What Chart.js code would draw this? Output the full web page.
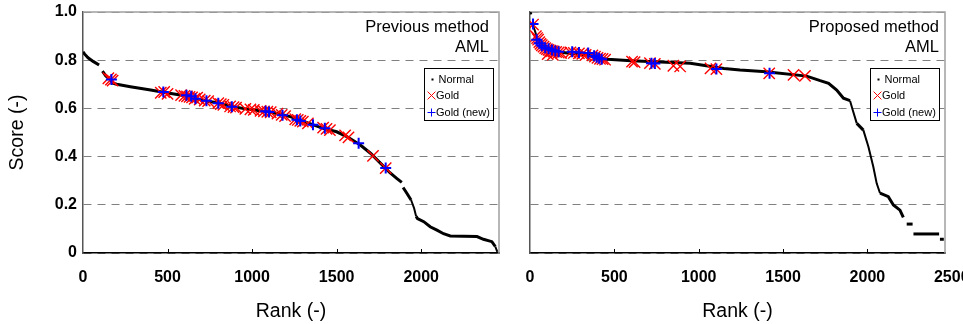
<!DOCTYPE html>
<html>
<head>
<meta charset="utf-8">
<script src="https://cdn.jsdelivr.net/npm/chart.js@4.4.1/dist/chart.umd.min.js"></script>
<style>
  body { margin: 0; background: #fff; }
  #wrap { position: relative; width: 963px; height: 324px; overflow: hidden; }
  canvas { position: absolute; top: 0; }
</style>
</head>
<body>
<div id="wrap">
  <canvas id="left" width="510" height="324" style="left:0"></canvas>
  <canvas id="right" width="453" height="324" style="left:510px"></canvas>
</div>
<script>
// ticks and labels
const rankTicksLeft = [0, 500, 1000, 1500, 2000];
const rankTicksRight = [0, 500, 1000, 1500, 2000, 2500];
const scoreTicks = [0, 0.2, 0.4, 0.6, 0.8, 1.0];
const legendLabels = ["Normal", "Gold", "Gold (new)"];
const prevTitle = ["Previous method", "AML"];
const propTitle = ["Proposed method", "AML"];

// Previous method - normal (null = gap in the dots)
const prevNormalRank = [0, 10, 30, 60, 95, 96, 115, 135, 160, 175, 200, 280, 400, 475, 575, 650, 730, 810, 890, 970, 1090, 1170, 1230, 1300, 1420, 1500, 1560, 1640, 1700, 1760, 1815, 1855, 1885, 1888, 1893, 1915, 1940, 1958, 1970, 1978, 2015, 2053, 2093, 2132, 2172, 2330, 2368, 2418, 2438, 2450];
const prevNormalScore = [0.835, 0.825, 0.81, 0.795, 0.78, null, 0.755, 0.735, 0.72, 0.705, 0.70, 0.69, 0.676, 0.667, 0.656, 0.643, 0.631, 0.621, 0.607, 0.597, 0.586, 0.576, 0.565, 0.547, 0.517, 0.503, 0.483, 0.448, 0.414, 0.372, 0.333, 0.31, 0.293, null, 0.272, 0.248, 0.22, 0.186, 0.152, 0.143, 0.13, 0.109, 0.095, 0.08, 0.071, 0.068, 0.057, 0.047, 0.027, 0.005];

// Previous method - gold
const prevGoldRank = [150, 165, 175, 460, 480, 500, 580, 600, 615, 630, 645, 660, 675, 690, 720, 740, 800, 815, 830, 870, 890, 905, 960, 990, 1010, 1050, 1070, 1090, 1110, 1150, 1175, 1195, 1255, 1270, 1285, 1300, 1330, 1420, 1440, 1460, 1550, 1570, 1715, 1790];
const prevGoldScore = [0.725, 0.72, 0.715, 0.665, 0.668, 0.66, 0.655, 0.652, 0.65, 0.648, 0.646, 0.64, 0.645, 0.637, 0.632, 0.63, 0.622, 0.618, 0.615, 0.608, 0.605, 0.603, 0.598, 0.596, 0.594, 0.59, 0.588, 0.586, 0.584, 0.578, 0.573, 0.568, 0.555, 0.552, 0.548, 0.545, 0.538, 0.52, 0.515, 0.51, 0.488, 0.48, 0.403, 0.352];

// Previous method - gold (new)
const prevNewRank = [168, 475, 612, 640, 665, 730, 800, 880, 1080, 1100, 1180, 1265, 1285, 1360, 1430, 1630, 1790];
const prevNewScore = [0.72, 0.668, 0.655, 0.65, 0.64, 0.632, 0.621, 0.607, 0.588, 0.585, 0.572, 0.553, 0.548, 0.532, 0.518, 0.455, 0.353];

// Proposed method - normal
const propNormalRank = [3, 8, 9, 15, 30, 45, 60, 100, 150, 250, 350, 400, 460, 600, 950, 1150, 1245, 1400, 1640, 1720, 1770, 1818, 1858, 1897, 1913, 1937, 1976, 2006, 2035, 2055, 2075, 2124, 2154, 2193, 2213, 2220, 2233, 2268, 2270, 2273, 2425, 2426, 2430, 2453];
const propNormalScore = [1.0, 0.99, null, 0.95, 0.92, 0.885, 0.87, 0.85, 0.835, 0.828, 0.82, 0.81, 0.804, 0.798, 0.787, 0.766, 0.759, 0.752, 0.734, 0.715, 0.704, 0.676, 0.642, 0.632, 0.593, 0.538, 0.51, 0.441, 0.358, 0.289, 0.248, 0.234, 0.199, 0.178, 0.148, null, 0.12, 0.12, null, 0.079, 0.079, null, 0.057, 0.057];

// Proposed method - gold
const propGoldRank = [18, 35, 42, 48, 55, 62, 70, 80, 90, 100, 105, 110, 120, 130, 135, 140, 155, 170, 185, 240, 260, 290, 310, 330, 370, 385, 400, 415, 430, 445, 605, 620, 711, 740, 850, 890, 1070, 1105, 1418, 1562, 1630];
const propGoldScore = [0.948, 0.9, 0.892, 0.885, 0.875, 0.868, 0.862, 0.856, 0.85, 0.846, 0.825, 0.843, 0.84, 0.838, 0.822, 0.836, 0.834, 0.832, 0.83, 0.832, 0.83, 0.828, 0.826, 0.822, 0.82, 0.815, 0.81, 0.806, 0.805, 0.802, 0.794, 0.792, 0.788, 0.785, 0.777, 0.774, 0.766, 0.763, 0.745, 0.739, 0.735];

// Proposed method - gold (new)
const propNewRank = [18, 40, 55, 70, 90, 110, 130, 150, 170, 250, 290, 345, 380, 395, 410, 425, 720, 740, 1105, 1420];
const propNewScore = [0.95, 0.885, 0.87, 0.86, 0.852, 0.847, 0.842, 0.838, 0.835, 0.835, 0.832, 0.83, 0.818, 0.812, 0.808, 0.804, 0.787, 0.786, 0.764, 0.746];

Chart.defaults.font.family = '"Liberation Sans", Arial, sans-serif';
Chart.defaults.color = '#000';

function pts(xs, ys) {
  return xs.map((x, i) => ({ x: x, y: ys[i] }));
}

// steep parts of the curve look like sparse thin dots
function segWidth(c) {
  const dx = Math.abs(c.p1.x - c.p0.x), dy = Math.abs(c.p1.y - c.p0.y);
  return dy > dx * 2.5 ? 2 : 3;
}

// frame, inside tick marks, corner text and the boxed legend
const panelPlugin = {
  id: 'panel',
  beforeDatasetsDraw(chart, args, o) {
    const { ctx, chartArea: a } = chart;
    ctx.save();
    ctx.strokeStyle = '#a0a0a0';
    ctx.lineWidth = 1.5;
    ctx.beginPath();
    ctx.moveTo(a.left, a.top);
    ctx.lineTo(a.right, a.top);
    ctx.lineTo(a.right, a.bottom);
    ctx.stroke();
    ctx.restore();
  },
  afterDraw(chart, args, o) {
    const { ctx, chartArea: a } = chart;
    const xs = chart.scales.x;
    ctx.save();
    // tick marks inside the plot
    ctx.strokeStyle = '#000';
    ctx.lineWidth = 1;
    xs.ticks.forEach(t => {
      if (t.value <= 0 || t.value > xs.max) return;
      const px = Math.round(xs.getPixelForValue(t.value)) + 0.5;
      ctx.beginPath();
      ctx.moveTo(px, a.bottom);
      ctx.lineTo(px, a.bottom - 4);
      ctx.stroke();
    });
    // method text
    ctx.font = '16.5px "Liberation Sans", Arial, sans-serif';
    ctx.fillStyle = '#000';
    ctx.textAlign = 'right';
    ctx.textBaseline = 'middle';
    o.lines.forEach((s, i) => ctx.fillText(s, a.right - o.textInset, 27 + i * 20));
    // legend box
    const w = 69, h = 52;
    const bx = Math.round(a.right - 6 - w) + 0.5, by = Math.round(a.top + 56) + 0.5;
    ctx.fillStyle = '#fff';
    ctx.fillRect(bx, by, w, h);
    ctx.strokeStyle = '#000';
    ctx.lineWidth = 1;
    ctx.strokeRect(bx, by, w, h);
    ctx.font = '11px "Liberation Sans", Arial, sans-serif';
    ctx.textAlign = 'left';
    const ds = chart.data.datasets;
    // Normal
    ctx.fillStyle = '#000';
    ctx.fillRect(bx + 7, by + 10, 2, 2);
    ctx.fillText(legendLabels[0], bx + 14, by + 11);
    // Gold
    ctx.strokeStyle = ds[1].borderColor;
    Chart.helpers.drawPoint(ctx, { pointStyle: 'crossRot', radius: 5.5, borderWidth: 1.2, rotation: 0 }, bx + 7, by + 27);
    ctx.fillText(legendLabels[1], bx + 11.5, by + 27);
    // Gold (new)
    ctx.strokeStyle = ds[2].borderColor;
    Chart.helpers.drawPoint(ctx, { pointStyle: 'cross', radius: 4, borderWidth: 1.5, rotation: 0 }, bx + 7, by + 44);
    ctx.fillText(legendLabels[2], bx + 11.5, by + 44);
    ctx.restore();
  }
};

function makeChart(id, normal, gold, gnew, cfg) {
  return new Chart(document.getElementById(id), {
    type: 'scatter',
    data: {
      datasets: [
        { label: legendLabels[0], data: normal, showLine: true, borderColor: '#000', borderWidth: 3,
          pointRadius: 0, spanGaps: false, tension: 0, order: 3, segment: { borderWidth: segWidth } },
        { label: legendLabels[1], data: gold, pointStyle: 'crossRot', pointRadius: 8,
          borderColor: '#ff0000', backgroundColor: '#ff0000', borderWidth: 1.4, order: 2 },
        { label: legendLabels[2], data: gnew, pointStyle: 'cross', pointRadius: 5.5,
          borderColor: '#0000ff', backgroundColor: '#0000ff', borderWidth: 2, order: 1 }
      ]
    },
    options: {
      responsive: false,
      animation: false,
      devicePixelRatio: 1,
      events: [],
      layout: { padding: cfg.padding },
      plugins: {
        legend: { display: false },
        tooltip: { enabled: false },
        panel: { lines: cfg.lines, textInset: cfg.textInset }
      },
      scales: {
        x: {
          type: 'linear', min: 0, max: 2460,
          afterBuildTicks: s => { s.ticks = cfg.xTicks.map(v => ({ value: v })); },
          afterFit: s => { s.height = 71; s.paddingLeft = 0; s.paddingRight = 0; },
          ticks: { autoSkip: false, maxRotation: 0, padding: 15, font: { size: 16, weight: 'bold' },
                   callback: v => String(v) },
          grid: { display: true, drawOnChartArea: false, drawTicks: false },
          border: { color: '#000', width: 1.5 },
          title: { display: true, text: 'Rank (-)', font: { size: 19.5 }, padding: { top: 0, bottom: 1 } }
        },
        y: {
          type: 'linear', min: 0, max: 1,
          afterBuildTicks: s => { s.ticks = scoreTicks.map(v => ({ value: v })); },
          afterFit: s => { s.width = cfg.yWidth; s.paddingTop = 0; s.paddingBottom = 0; },
          ticks: { display: cfg.yLabels, padding: 6, font: { size: 16, weight: 'bold' },
                   callback: v => v === 0 ? '0' : v.toFixed(1) },
          grid: { color: '#808080', lineWidth: 1, drawTicks: false },
          border: { color: '#555', width: 1.5, dash: [8, 6] },
          title: { display: cfg.yLabels, text: 'Score (-)', font: { size: 19.5 }, padding: { top: 6, bottom: 6 } }
        }
      }
    },
    plugins: [panelPlugin]
  });
}

makeChart('left',
  pts(prevNormalRank, prevNormalScore), pts(prevGoldRank, prevGoldScore), pts(prevNewRank, prevNewScore),
  { padding: { left: 0, right: 11, top: 12, bottom: 0 }, yWidth: 83, yLabels: true,
    xTicks: rankTicksLeft, lines: prevTitle, textInset: 10 });

makeChart('right',
  pts(propNormalRank, propNormalScore), pts(propGoldRank, propGoldScore), pts(propNewRank, propNewScore),
  { padding: { left: 0, right: 18, top: 12, bottom: 0 }, yWidth: 20, yLabels: false,
    xTicks: rankTicksRight, lines: propTitle, textInset: 6 });
</script>
</body>
</html>
